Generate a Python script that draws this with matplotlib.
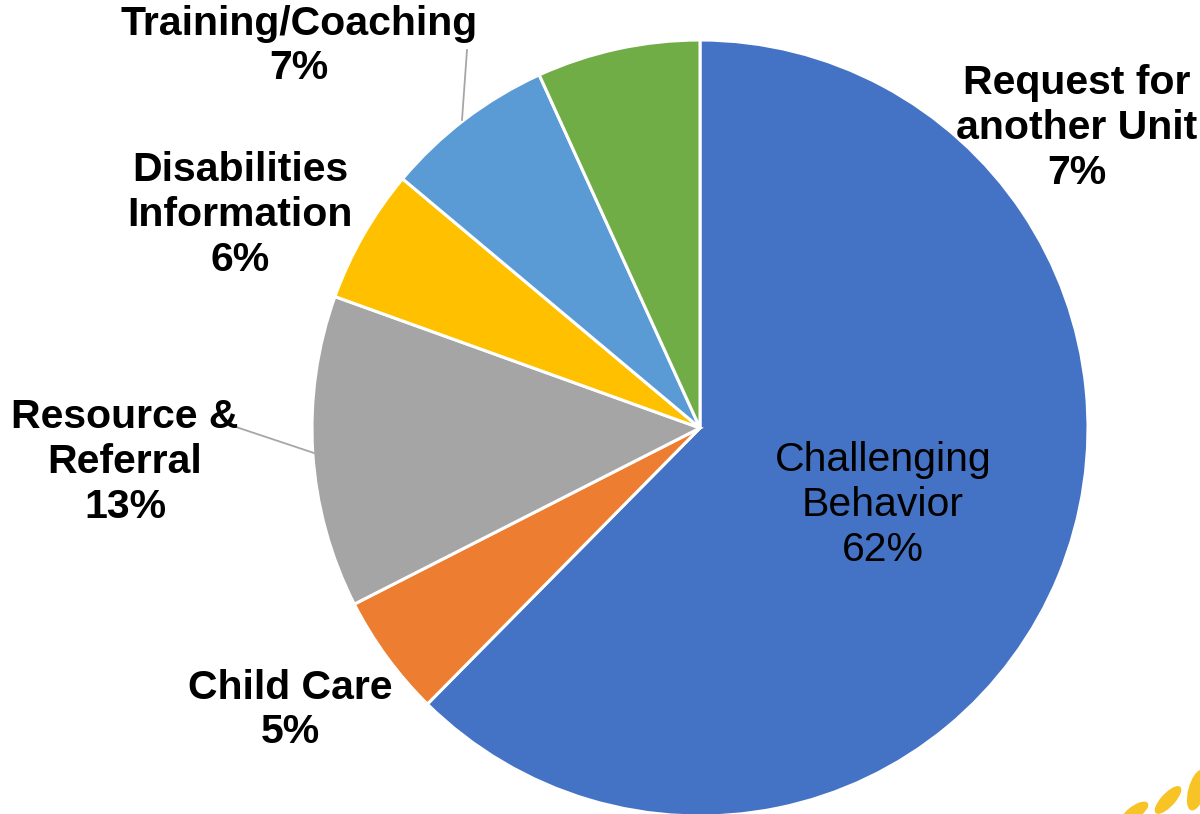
import matplotlib.pyplot as plt
from matplotlib.patches import Ellipse

# slices, clockwise from 12 o'clock
categories = ["Challenging\nBehavior", "Child Care", "Resource &\nReferral",
              "Disabilities\nInformation", "Training/Coaching", "Request for\nanother Unit"]
values = [62.4, 5.1, 13.0, 5.6, 7.1, 6.8]
colors = ["#4472C4", "#ED7D31", "#A5A5A5", "#FFC000", "#5B9BD5", "#70AD47"]

# label centres in pixels (x, y from top)
label_px = [(883, 505), (290, 710), (125, 462), (240, 215), (299, 46), (1077, 128)]
label_bold = [False, True, True, True, True, True]

W, H = 1200, 814
cx, cy, r = 700, 428, 388

fig = plt.figure(figsize=(W / 100, H / 100), dpi=100)
ax = fig.add_axes([(cx - r) / W, (H - cy - r) / H, 2 * r / W, 2 * r / H])

ax.pie(values, colors=colors, startangle=90, counterclock=False, radius=1,
       wedgeprops=dict(edgecolor="white", linewidth=2.2))
ax.set_xlim(-1, 1)
ax.set_ylim(-1, 1)
ax.set_aspect("equal")
ax.axis("off")


def to_data(px, py):
    return (px - cx) / r, (cy - py) / r


total = sum(values)
for name, v, (px, py), bold in zip(categories, values, label_px, label_bold):
    x, y = to_data(px, py)
    ax.text(x, y, f"{name}\n{100 * v / total:.0f}%", ha="center", va="center",
            fontsize=29.5, family="Liberation Sans",
            fontweight="bold" if bold else "normal", linespacing=1.22,
            clip_on=False)

# leader lines
for (x0, y0), (x1, y1) in [((467, 50), (462, 120)), ((230, 425), (314, 453))]:
    a, b = to_data(x0, y0)
    c, d = to_data(x1, y1)
    ax.plot([a, c], [b, d], color="#A6A6A6", lw=1.3, clip_on=False)

# bits of yellow decoration at bottom right corner
for (ex, ey, ew, eh, ang) in [(1135, 812, 14, 24, -40), (1168, 800, 14, 30, -30),
                               (1197, 790, 16, 40, -10)]:
    fig.patches.append(Ellipse((ex / W, 1 - ey / H), ew / W, eh / H, angle=ang,
                               color="#F7C325", transform=fig.transFigure))

fig.savefig("out.png", dpi=100)
